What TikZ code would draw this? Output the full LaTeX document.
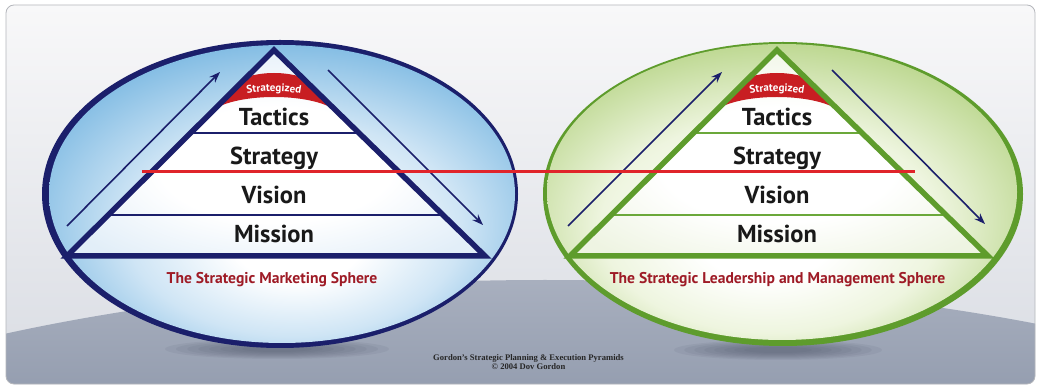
\documentclass[tikz,border=0pt]{standalone}
\usepackage{fontspec}
\setmainfont{Liberation Serif}
\newfontfamily\labfont{PT Sans}
\usetikzlibrary{arrows.meta,calc,decorations.text}

\definecolor{navy}{HTML}{1B1F6B}
\definecolor{leaf}{HTML}{5E9C2C}
\definecolor{leafline}{HTML}{6BA83A}
\definecolor{capred}{HTML}{C81E22}
\definecolor{linered}{HTML}{E0242A}
\definecolor{labred}{HTML}{9E1B26}
\definecolor{bgtop}{HTML}{F8F8F9}
\definecolor{bgbot}{HTML}{D9DCE3}
\definecolor{groundtop}{HTML}{A9B0BF}
\definecolor{groundbot}{HTML}{959EB0}
\definecolor{shadowc}{HTML}{4E5468}
\definecolor{framegray}{HTML}{B5B7BC}
\definecolor{skymid}{HTML}{CFE5F5}
\definecolor{skyedge}{HTML}{6FB2DF}
\definecolor{pearmid}{HTML}{EEF5DF}
\definecolor{pearedge}{HTML}{B0D07C}
\definecolor{pyrtint}{HTML}{E2EEF8}
\definecolor{pyrtintg}{HTML}{EEF4E2}

% sphere fillings: white glow low in the middle, colour towards the rim
\pgfdeclareradialshading{bluesphere}{\pgfpoint{2bp}{-9bp}}{%
  color(0bp)=(white); color(7bp)=(white); color(18bp)=(skymid);
  color(32bp)=(skyedge); color(50bp)=(skyedge)}
\pgfdeclareradialshading{greensphere}{\pgfpoint{-2bp}{-9bp}}{%
  color(0bp)=(white); color(7bp)=(white); color(18bp)=(pearmid);
  color(32bp)=(pearedge); color(50bp)=(pearedge)}
\pgfdeclareradialshading{bluepyr}{\pgfpoint{0bp}{-4bp}}{%
  color(0bp)=(white); color(14bp)=(white); color(30bp)=(pyrtint); color(50bp)=(pyrtint)}
\pgfdeclareradialshading{greenpyr}{\pgfpoint{0bp}{-4bp}}{%
  color(0bp)=(white); color(14bp)=(white); color(30bp)=(pyrtintg); color(50bp)=(pyrtintg)}

\tikzset{
  layertext/.style={font=\labfont\bfseries\fontsize{24.5}{26}\selectfont,
    text=black!90, anchor=base, inner sep=0pt},
  spheretext/.style={font=\labfont\bfseries\fontsize{15.6}{17}\selectfont,
    text=labred, anchor=base, inner sep=0pt},
  flowarrow/.style={navy, line width=1.6pt,
    -{Stealth[length=11pt,width=8pt]}},
  footer/.style={font=\bfseries\fontsize{8.6}{10}\selectfont, text=black!85,
    anchor=base, inner sep=0pt},
}

% one pyramid: #1 name prefix, #2 centre x, #3 outline colour,
% #4 layer line colour, #5 fill shading
\newcommand\pyramid[5]{%
  \coordinate (#1apex) at (#2,50);
  \coordinate (#1bl) at ({#2-207},256);
  \coordinate (#1br) at ({#2+211},256);
  \shade[shading=#5] (#1apex) -- (#1bl) -- (#1br) -- cycle;
  \begin{scope}
    \clip (#1apex) -- (#1bl) -- (#1br) -- cycle;
    \fill[capred] ({#2-68},120)
      arc[start angle=180, end angle=360, x radius=68, y radius=47]
      arc[start angle=0, end angle=-180, x radius=68, y radius=23] -- cycle;
  \end{scope}
  \path[decorate, decoration={text along path, text align=center,
      text={|\labfont\bfseries\fontsize{11}{12}\selectfont\color{white}|Strategized}}]
    ({#2-44},98) .. controls ({#2-15},89) and ({#2+15},89) .. ({#2+44},98);
  \draw[#4, line width=2.2pt] ($(#1apex)!0.403!(#1bl)$) -- ($(#1apex)!0.403!(#1br)$);
  \draw[#4, line width=2.2pt] ($(#1apex)!0.801!(#1bl)$) -- ($(#1apex)!0.801!(#1br)$);
  \draw[#3, line width=5.5pt, line join=miter] (#1apex) -- (#1bl) -- (#1br) -- cycle;
  \node[layertext] (#1tactics)  at (#2,125.5) {Tactics};
  \node[layertext] (#1strategy) at (#2,165)   {Strategy};
  \node[layertext] (#1vision)   at (#2,204)   {Vision};
  \node[layertext] (#1mission)  at (#2,243)   {Mission};
}

\begin{document}
\begin{tikzpicture}[x=1pt, y=-1pt]
\useasboundingbox (0,0) rectangle (1039,387);
\fill[white] (0,0) rectangle (1039,387);

% backdrop: pale sky and a grey floor
\begin{scope}
  \clip[rounded corners=8pt] (6,5) rectangle (1035,384);
  \shade[top color=bgtop, bottom color=bgbot] (6,5) rectangle (1035,384);
  \begin{scope}
    \clip (545,620) ellipse [x radius=1000, y radius=340];
    \shade[top color=groundtop, bottom color=groundbot] (0,275) rectangle (1039,387);
  \end{scope}
  % soft shadows under the spheres, built up from faint layers
  \foreach \k in {0,...,7} {
    \fill[shadowc, opacity=0.09] (277,349) ellipse [x radius={112-11*\k}, y radius={10-\k}];
    \fill[shadowc, opacity=0.09] (778,350) ellipse [x radius={104-10*\k}, y radius={10-\k}];
  }
\end{scope}
\draw[framegray, line width=0.8pt, rounded corners=8pt] (6,5) rectangle (1035,384);

% the two spheres
\fill[navy] (280,194) ellipse [x radius=238, y radius=154];
\shade[shading=bluesphere] (282,194) ellipse [x radius=233, y radius=149];
\fill[leaf] (783,194) ellipse [x radius=240, y radius=152];
\shade[shading=greensphere] (782,192) ellipse [x radius=235, y radius=148];

% pyramids
\pyramid{L}{274}{navy}{navy}{bluepyr}
\pyramid{R}{777}{leaf}{leafline}{greenpyr}

% up and down arrows beside each pyramid
\coordinate (La1) at (67,226);  \coordinate (La2) at (220,72);
\coordinate (Lb1) at (328,70);  \coordinate (Lb2) at (483,225);
\coordinate (Ra1) at (568,226); \coordinate (Ra2) at (722,72);
\coordinate (Rb1) at (832,70);  \coordinate (Rb2) at (985,224);
\draw[flowarrow] (La1) -- (La2);
\draw[flowarrow] (Lb1) -- (Lb2);
\draw[flowarrow] (Ra1) -- (Ra2);
\draw[flowarrow] (Rb1) -- (Rb2);

% red line joining the two spheres
\coordinate (redL) at (142,172);
\coordinate (redR) at (915,172);
\draw[linered, line width=3pt] (redL) -- (redR);

% sphere captions
\node[spheretext] (capL) at (272,284) {The Strategic Marketing Sphere};
\node[spheretext] (capR) at (777.5,284) {The Strategic Leadership and Management Sphere};

% credit line
\node[footer] (credit1) at (528.5,360) {Gordon's Strategic Planning \& Execution Pyramids};
\node[footer] (credit2) at (528.5,370) {\textcopyright\ 2004 Dov Gordon};
\end{tikzpicture}
\end{document}
